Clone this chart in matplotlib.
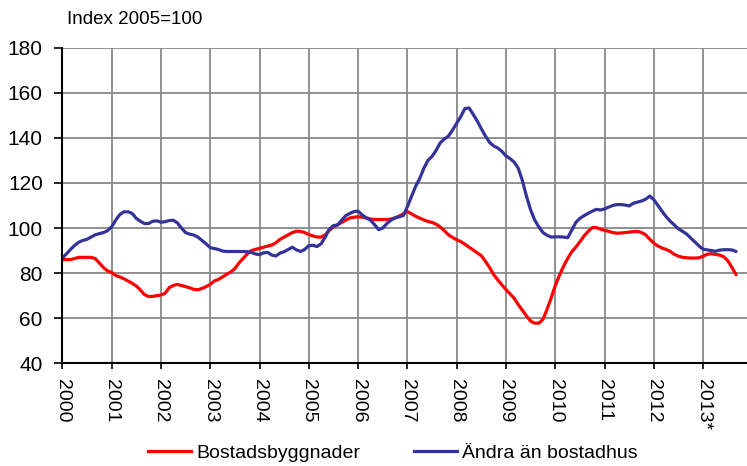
import matplotlib
matplotlib.use("Agg")
import matplotlib.pyplot as plt
from matplotlib.lines import Line2D

plt.rcParams['font.family'] = ['Liberation Sans', 'DejaVu Sans']

# Monthly index values, Jan 2000 .. Sep 2013
bostadsbyggnader = [
    # 2000
    86, 86, 86, 86.5, 87, 87, 87, 87, 86.5, 84.5, 82.5, 81,
    # 2001
    80.3, 79, 78.3, 77.5, 76.5, 75.5, 74.3, 72.5, 70.5, 69.6, 69.7, 70,
    # 2002
    70.3, 71, 73.5, 74.5, 75, 74.5, 74, 73.5, 72.8, 72.6, 73.2, 74,
    # 2003
    75, 76.5, 77.2, 78.3, 79.5, 80.5, 82, 84.5, 86.5, 88.5, 90, 90.5,
    # 2004
    91, 91.5, 92, 92.5, 93.5, 95, 96, 97, 98, 98.6, 98.5, 98,
    # 2005
    97.1, 96.5, 96, 96, 97, 99, 100.5, 101.5, 102.5, 103.5, 104.5, 104.8,
    # 2006
    105, 104.8, 104.5, 104, 103.8, 103.8, 103.8, 103.8, 104, 104.5, 105.3, 106.3,
    # 2007
    107.3, 106.3, 105.2, 104.4, 103.6, 102.9, 102.5, 101.7, 100.5, 98.8, 97, 95.8,
    # 2008
    94.8, 94, 92.8, 91.5, 90.3, 89, 87.7, 85.2, 82.5, 79.3, 77, 74.8,
    # 2009
    72.7, 70.8, 68.8, 66, 63.5, 61, 58.7, 57.8, 57.8, 59.5, 64, 69,
    # 2010
    74.5, 79, 83, 86.5, 89.5, 91.5, 94, 96.5, 98.5, 100.2, 100.2, 99.5,
    # 2011
    99, 98.5, 98, 97.7, 97.8, 98, 98.2, 98.4, 98.5, 98, 97, 95,
    # 2012
    93.3, 92, 91.1, 90.5, 89.6, 88.3, 87.5, 87, 86.8, 86.7, 86.7, 86.8,
    # 2013
    87.5, 88.4, 88.6, 88.3, 88, 87.3, 85.5, 82.5, 79.3,
]

andra_an_bostadhus = [
    # 2000
    86.7, 88.5, 90.5, 92.3, 93.7, 94.5, 95, 96, 97, 97.5, 98, 98.8,
    # 2001
    100.5, 103.5, 106, 107.2, 107.2, 106.5, 104.3, 103, 102, 102, 103, 103.2,
    # 2002
    102.6, 102.8, 103.3, 103.5, 102.3, 100, 98, 97.3, 96.9, 96, 94.5, 93,
    # 2003
    91.3, 90.9, 90.5, 89.8, 89.6, 89.6, 89.6, 89.6, 89.6, 89.5, 89.2, 88.5,
    # 2004
    88.2, 89, 89.2, 88, 87.6, 88.9, 89.5, 90.5, 91.5, 90.3, 89.6, 90.5,
    # 2005
    92.2, 92.3, 91.8, 93, 96, 99.5, 101.1, 101.3, 103.5, 105.5, 106.5, 107.3,
    # 2006
    107.5, 105.8, 104.5, 103.5, 101.5, 99.3, 100, 102, 103.5, 104.5, 105, 105.5,
    # 2007
    109.5, 114, 118.5, 122, 126.5, 130, 131.8, 134.5, 137.8, 139.5, 140.8, 143.5,
    # 2008
    146.5, 149.5, 153, 153.3, 150.5, 147.5, 144, 140.8, 138, 136.4, 135.5, 134,
    # 2009
    132, 130.8, 129.2, 126.5, 121, 114, 108, 103.5, 100.5, 98, 96.8, 96,
    # 2010
    96.1, 96.1, 96, 95.7, 99, 102.5, 104.3, 105.5, 106.5, 107.5, 108.3, 108,
    # 2011
    108.5, 109.3, 110, 110.4, 110.4, 110.2, 109.8, 111, 111.5, 112, 112.8, 114.2,
    # 2012
    112.5, 110, 107.4, 105, 103, 101.3, 99.6, 98.5, 97.3, 95.5, 93.8, 92,
    # 2013
    90.6, 90.3, 90, 89.7, 90.2, 90.4, 90.4, 90.3, 89.6,
]

year_labels = ["2000", "2001", "2002", "2003", "2004", "2005", "2006",
               "2007", "2008", "2009", "2010", "2011", "2012", "2013*"]
series_names = ["Bostadsbyggnader", "Ändra än bostadhus"]
y_ticks = [40, 60, 80, 100, 120, 140, 160, 180]

W, H = 747, 466
fig = plt.figure(figsize=(W / 100, H / 100), dpi=100)
left, right, top, bottom = 62.3, 747, 47.7, 363.3
ax = fig.add_axes([left / W, 1 - bottom / H, (right - left) / W, (bottom - top) / H])

months = list(range(len(bostadsbyggnader)))
red = "#FF0000"
blue = "#333399"
ax.plot(months, bostadsbyggnader, color=red, lw=2.3, solid_capstyle='round', zorder=3)
ax.plot(list(range(len(andra_an_bostadhus))), andra_an_bostadhus, color=blue, lw=2.3,
        solid_capstyle='round', zorder=4)

px_per_month = 49.3 / 12
ax.set_xlim(0, (right - left) / px_per_month)
ax.set_ylim(40, 180)

ax.set_yticks(y_ticks)
ax.set_yticklabels([str(v) for v in y_ticks], fontsize=15)
ax.set_xticks([12 * i for i in range(len(year_labels))])
ax.set_xticklabels(year_labels, rotation=-90, fontsize=14, va='top', ha='center')

ax.grid(True, color="#888888", lw=1.3, zorder=0)
ax.set_axisbelow(True)
for s in ['top', 'right']:
    ax.spines[s].set_visible(False)
for s in ['left', 'bottom']:
    ax.spines[s].set_color('black')
    ax.spines[s].set_linewidth(1.5)
    ax.spines[s].set_zorder(5)
ax.tick_params(axis='y', length=6, width=1.2, pad=8, color='black')
ax.tick_params(axis='x', length=4, width=1.2, pad=7, color='black')

fig.text(67 / W, 1 - 19 / H, "Index 2005=100", fontsize=13.5, va='center', ha='left')

handles = [Line2D([], [], color=red, lw=2.3), Line2D([], [], color=blue, lw=2.3)]
fig.legend(handles, series_names, loc='center', bbox_to_anchor=(393 / W, 1 - 453 / H),
           ncol=2, frameon=False, fontsize=14, handlelength=2.2, handletextpad=0.25,
           columnspacing=2.8)

fig.savefig("out.png", dpi=100)
